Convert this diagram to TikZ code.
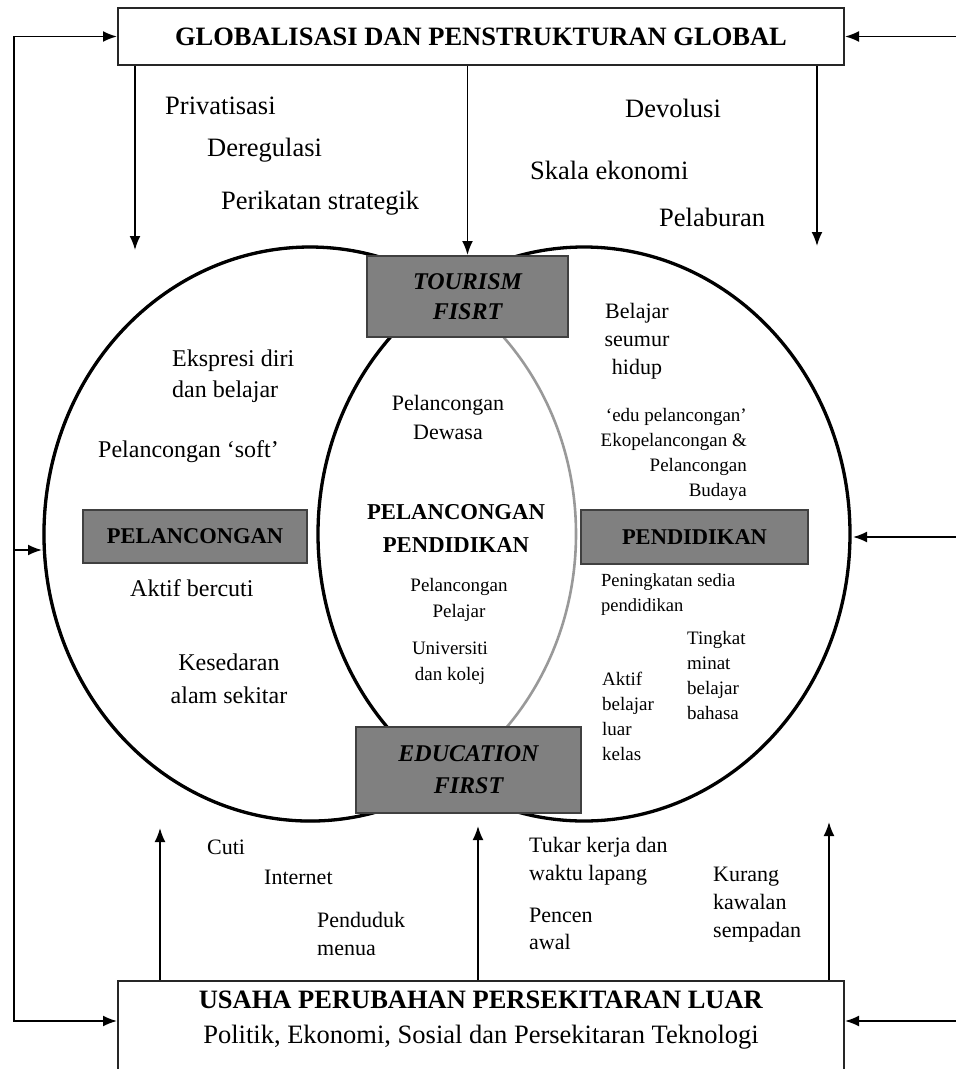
\documentclass[tikz,border=0pt]{standalone}
\usepackage{fontspec}
\setmainfont{Liberation Serif}
\usetikzlibrary{arrows.meta}

\tikzset{
  outerbox/.style={draw=black!85, line width=2pt, minimum width=726pt, inner sep=0pt},
  greybox/.style={draw=black!75, fill=black!50, line width=2pt, inner sep=0pt, align=center},
  txt/.style={inner sep=0pt, align=left, anchor=west},
  ctxt/.style={inner sep=0pt, align=center},
  link/.style={line width=1.8pt, >={Latex[length=14pt,width=11pt]}, ->},
  ring/.style={line width=3.3pt},
  innerring/.style={line width=2.6pt, draw=black!40},
  big/.style={font=\fontsize{26.5}{32}\selectfont},
  mid/.style={font=\fontsize{24}{31}\selectfont},
  small/.style={font=\fontsize{22}{28}\selectfont},
  tiny/.style={font=\fontsize{19}{25}\selectfont},
}

\begin{document}
\begin{tikzpicture}[x=1pt,y=-1pt]
\clip (0,0) rectangle (956,1069);
\fill[white] (0,0) rectangle (956,1069);

% two rings
\draw[innerring] (310,534) ellipse [x radius=266, y radius=287];
\draw[ring] ([shift={(59:266 and 287)}]310,534) arc [start angle=59, end angle=301, x radius=266, y radius=287];
\draw[ring] (584,534) ellipse [x radius=266, y radius=287];

% outer boxes
\node[outerbox, minimum height=57pt, font=\fontsize{26.5}{32}\selectfont\bfseries] (global) at (481,36.5) {GLOBALISASI DAN PENSTRUKTURAN GLOBAL};
\node[outerbox, minimum height=140pt, anchor=north] (usaha) at (481,980) {};
\node[ctxt, font=\fontsize{26.5}{35}\selectfont] (usahatext) at (481,1020.5) {\textbf{USAHA PERUBAHAN PERSEKITARAN LUAR}\\Politik, Ekonomi, Sosial dan Persekitaran Teknologi};

% grey boxes
\node[greybox, minimum width=201pt, minimum height=81pt, font=\fontsize{24}{30}\selectfont\bfseries\itshape] (tourism) at (467.5,296.5) {TOURISM\\FISRT};
\node[greybox, minimum width=225pt, minimum height=86pt, font=\fontsize{24}{32}\selectfont\bfseries\itshape] (education) at (468.5,770) {EDUCATION\\FIRST};
\node[greybox, minimum width=224pt, minimum height=53pt, font=\fontsize{22.5}{28}\selectfont\bfseries] (pelancongan) at (195,536.5) {PELANCONGAN};
\node[greybox, minimum width=227pt, minimum height=54pt, font=\fontsize{22.5}{28}\selectfont\bfseries] (pendidikan) at (694.5,537) {PENDIDIKAN};

% arrows
\coordinate (gtipl) at (135,250);
\coordinate (gtipr) at (817,246);
\coordinate (utipl) at (160,828);
\coordinate (utipm) at (478,826);
\coordinate (utipr) at (829,822);
\coordinate (lfoot) at (14,1021);
\coordinate (rfoot) at (962,1021);
\coordinate (lring) at (42,550);
\coordinate (rring) at (853,537);
\draw[link] (gtipl |- global.south) -- (gtipl);
\draw[link] (tourism.north |- global.south) -- (tourism.north);
\draw[link] (gtipr |- global.south) -- (gtipr);
\draw[link] (utipl |- usaha.north) -- (utipl);
\draw[link] (utipm |- usaha.north) -- (utipm);
\draw[link] (utipr |- usaha.north) -- (utipr);
\draw[link,<->] (global.west) -| (lfoot) -- (lfoot -| usaha.west);
\draw[link,<->] (global.east) -| (rfoot) -- (rfoot -| usaha.east);
\draw[link] (lfoot |- lring) -- (lring);
\draw[link] (rfoot |- rring) -- (rring);

% globalisasi
\node[txt, big] (privatisasi) at (165,106) {Privatisasi};
\node[txt, big] (deregulasi) at (207,150) {Deregulasi};
\node[txt, big] (perikatan) at (221,203) {Perikatan strategik};
\node[txt, big] (devolusi) at (625,108) {Devolusi};
\node[txt, big] (skala) at (530,170) {Skala ekonomi};
\node[txt, big] (pelaburan) at (659,217) {Pelaburan};

% pelancongan ring
\node[txt, mid] (ekspresi) at (172,376) {Ekspresi diri\\dan belajar};
\node[txt, mid] (soft) at (98,452) {Pelancongan `soft'};
\node[txt, mid] (bercuti) at (130,588) {Aktif bercuti};
\node[ctxt, font=\fontsize{24}{33}\selectfont] (kesedaran) at (229,678.5) {Kesedaran\\alam sekitar};

% middle
\node[ctxt, font=\fontsize{22}{29}\selectfont] (dewasa) at (448,417.5) {Pelancongan\\Dewasa};
\node[ctxt, font=\fontsize{22.7}{33}\selectfont\bfseries] (pelpen) at (456,528.5) {PELANCONGAN\\PENDIDIKAN};
\node[ctxt, font=\fontsize{19}{26}\selectfont] (pelajar) at (459,600) {Pelancongan\\Pelajar};
\node[ctxt, font=\fontsize{19}{26}\selectfont] (universiti) at (450,663) {Universiti\\dan kolej};

% pendidikan ring
\node[ctxt, font=\fontsize{22}{28}\selectfont] (seumur) at (637,341) {Belajar\\seumur\\hidup};
\node[inner sep=0pt, align=right, anchor=east, tiny] (edu) at (747,454) {`edu pelancongan'\\Ekopelancongan \&\\Pelancongan\\Budaya};
\node[txt, font=\fontsize{18.5}{25}\selectfont] (peningkatan) at (601,594.5) {Peningkatan sedia\\pendidikan};
\node[txt, tiny] (tingkat) at (687,675) {Tingkat\\minat\\belajar\\bahasa};
\node[txt, tiny] (luarkelas) at (602,716) {Aktif\\belajar\\luar\\kelas};

% usaha
\node[txt, small] (cuti) at (207,847) {Cuti};
\node[txt, small] (internet) at (264,877) {Internet};
\node[txt, small] (penduduk) at (317,934) {Penduduk\\menua};
\node[txt, small] (tukar) at (529,861) {Tukar kerja dan\\waktu lapang};
\node[txt, font=\fontsize{22}{27}\selectfont] (pencen) at (529,928.5) {Pencen\\awal};
\node[txt, small] (kurang) at (713,905) {Kurang\\kawalan\\sempadan};
\end{tikzpicture}
\end{document}
